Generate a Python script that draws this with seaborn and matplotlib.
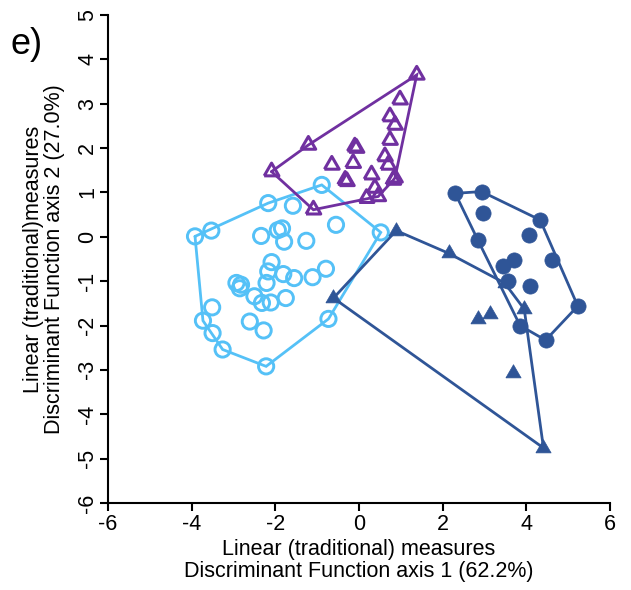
import numpy as np
import matplotlib
matplotlib.use("Agg")
import matplotlib.pyplot as plt
import seaborn as sns
import pandas as pd

# ---------------- data ----------------
purple_x = [1.38, 0.98, 0.74, 0.86, 0.74, 0.62, 0.70, 0.82, -1.21, -2.09, -1.09,
            -0.10, -0.06, -0.14, -0.65, -0.29, -0.33, 0.30, 0.18, 0.46, 0.38, 0.86]
purple_y = [3.65, 3.09, 2.71, 2.52, 2.18, 1.81, 1.62, 1.28, 2.07, 1.47, 0.61,
            2.03, 2.00, 1.66, 1.62, 1.25, 1.28, 1.40, 0.87, 0.91, 1.10, 1.33]

light_x = [-3.92, -3.53, -2.17, -1.58, -0.89, -0.55, 0.52, -2.34, -1.94, -1.84,
           -1.79, -1.26, -2.09, -2.17, -1.81, -1.55, -1.11, -0.79, -2.21, -2.93,
           -2.85, -2.82, -2.50, -2.32, -2.11, -1.75, -3.51, -3.73, -3.50, -3.26,
           -2.61, -2.28, -2.22, -0.73]
light_y = [0.01, 0.14, 0.76, 0.70, 1.17, 0.27, 0.10, 0.02, 0.15, 0.19,
           -0.11, -0.09, -0.57, -0.78, -0.84, -0.93, -0.91, -0.72, -1.04, -1.04,
           -1.16, -1.08, -1.34, -1.49, -1.48, -1.38, -1.59, -1.89, -2.17, -2.54,
           -1.91, -2.11, -2.92, -1.85]

dcirc_x = [2.30, 2.93, 2.97, 4.33, 4.07, 2.84, 4.62, 3.70, 3.44, 3.57, 4.09, 5.23, 3.85, 4.46]
dcirc_y = [0.98, 1.02, 0.53, 0.38, 0.05, -0.07, -0.52, -0.53, -0.65, -1.00, -1.11, -1.56, -2.00, -2.33]

dtri_x = [0.89, -0.61, 2.14, 3.48, 3.95, 2.85, 3.13, 3.69, 4.41]
dtri_y = [0.14, -1.38, -0.37, -1.04, -1.63, -1.85, -1.73, -3.07, -4.76]

x_ticks = [-6, -4, -2, 0, 2, 4, 6]
y_ticks = [-6, -5, -4, -3, -2, -1, 0, 1, 2, 3, 4, 5]

PURPLE = "#7030A0"
LIGHT = "#55C1F7"
DARK = "#2F5597"

# equilateral triangle marker
TRI = [(-1.0, -0.577), (1.0, -0.577), (0.0, 1.155), (-1.0, -0.577)]


def hull(xs, ys):
    pts = sorted(set(zip(xs, ys)))

    def cross(o, a, b):
        return (a[0] - o[0]) * (b[1] - o[1]) - (a[1] - o[1]) * (b[0] - o[0])

    lower, upper = [], []
    for p in pts:
        while len(lower) >= 2 and cross(lower[-2], lower[-1], p) <= 0:
            lower.pop()
        lower.append(p)
    for p in reversed(pts):
        while len(upper) >= 2 and cross(upper[-2], upper[-1], p) <= 0:
            upper.pop()
        upper.append(p)
    h = lower[:-1] + upper[:-1]
    h.append(h[0])
    return [p[0] for p in h], [p[1] for p in h]


sns.set_theme(style="ticks")
plt.rcParams['font.family'] = ['Liberation Sans', 'DejaVu Sans']
plt.rcParams['text.color'] = 'black'
plt.rcParams['axes.labelcolor'] = 'black'
plt.rcParams['xtick.color'] = 'black'
plt.rcParams['ytick.color'] = 'black'

fig = plt.figure(figsize=(6.31, 5.90), dpi=100)
ax = fig.add_axes([108 / 631, 87 / 590, 502 / 631, 488 / 590])

groups = [
    (light_x, light_y, LIGHT, "o", 120, True, 2.1),
    (purple_x, purple_y, PURPLE, TRI, 150, True, 2.2),
    (dcirc_x, dcirc_y, DARK, "o", 120, False, 0.5),
    (dtri_x, dtri_y, DARK, TRI, 160, False, 0.5),
]

for gx, gy, col, mk, sz, hollow, lw in groups:
    hx, hy = hull(gx, gy)
    ax.plot(hx, hy, color=col, lw=2.0, zorder=2, solid_joinstyle="miter")
    df = pd.DataFrame({"x": gx, "y": gy})
    if hollow:
        sns.scatterplot(data=df, x="x", y="y", ax=ax, marker=mk, s=sz,
                        color=col, facecolor="none", edgecolor=col,
                        linewidth=lw, zorder=3, legend=False)
    else:
        sns.scatterplot(data=df, x="x", y="y", ax=ax, marker=mk, s=sz,
                        color=col, edgecolor=col, linewidth=lw,
                        zorder=3, legend=False)

ax.set_xlim(-6, 6)
ax.set_ylim(-6, 5)
ax.set_xticks(x_ticks)
ax.set_yticks(y_ticks)
ax.set_xticklabels([str(t) for t in x_ticks])
ax.set_yticklabels([str(t) for t in y_ticks])

for s in ["top", "right"]:
    ax.spines[s].set_visible(False)
for s in ["left", "bottom"]:
    ax.spines[s].set_linewidth(1.5)
    ax.spines[s].set_color("black")

ax.tick_params(axis="both", direction="out", length=6, width=1.5,
               color="black", labelsize=15.5, labelcolor="black", pad=2)
ax.tick_params(axis="y", labelrotation=90, pad=1)
for lab in ax.get_yticklabels():
    lab.set_va("center")

ax.set_xlabel("Linear (traditional) measures\nDiscriminant Function axis 1 (62.2%)",
              fontsize=15.5, labelpad=3, linespacing=1.05)
ax.set_ylabel("Linear (traditional)measures\nDiscriminant Function axis 2 (27.0%)",
              fontsize=15.5, labelpad=9, linespacing=1.0)

fig.text(10 / 631, 1 - 45 / 590, "e)", fontsize=26, ha="left", va="center")

fig.savefig("out.png", dpi=100)
